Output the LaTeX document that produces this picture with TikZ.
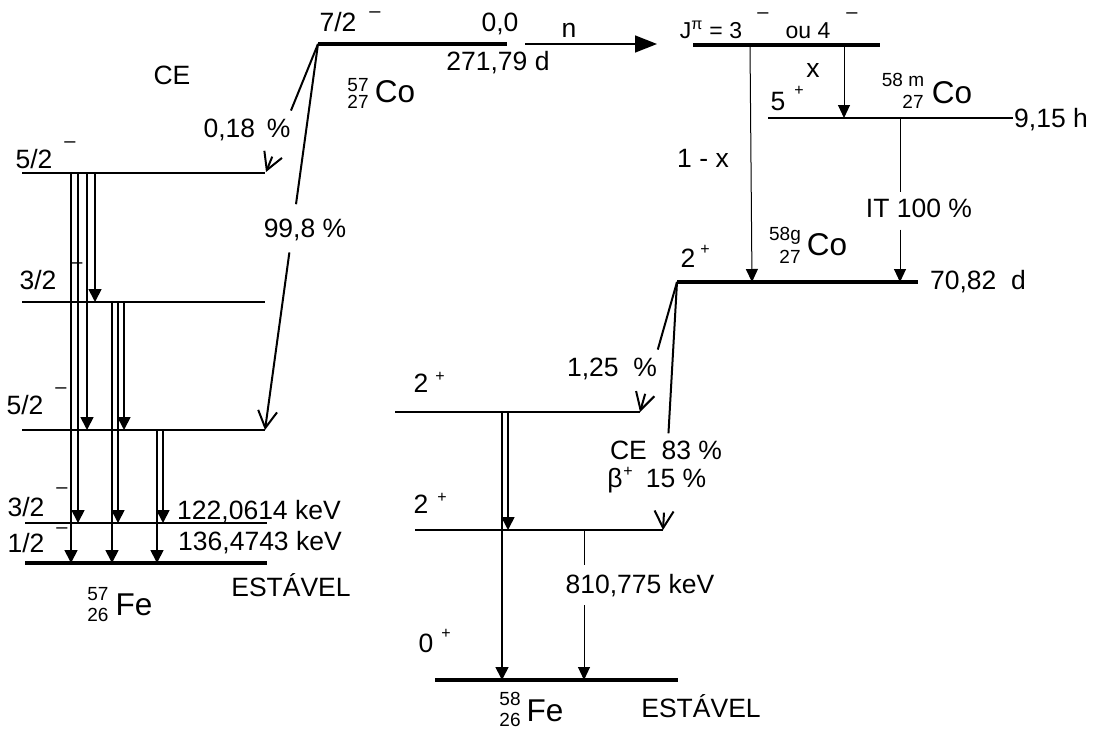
\documentclass[tikz,border=0pt]{standalone}
\usepackage{fontspec}
\setmainfont{Liberation Sans}
\usetikzlibrary{arrows.meta,calc}
\begin{document}
\begin{tikzpicture}[x=1pt,y=-1pt,
  lvl/.style={line width=2pt},
  tlvl/.style={line width=4.5pt},
  mlvl/.style={line width=3.2pt},
  gam/.style={line width=1.8pt,-{Triangle[length=13pt,width=13pt]}},
  tr/.style={line width=1pt,-{Triangle[length=13pt,width=12pt]}},
  dec/.style={line width=2pt},
  vtip/.style={line width=2pt,-{Straight Barb[length=17pt,width=19pt,line width=2pt]}},
  big/.style={line width=1.6pt,-{Triangle[length=22pt,width=17pt]}},
  lbl/.style={font=\fontsize{26.5}{30}\selectfont,inner sep=0pt,text height=19pt,text depth=0pt},
  mlbl/.style={font=\fontsize{23}{27}\selectfont,inner sep=0pt,text height=16.5pt,text depth=0pt},
  nuc/.style={font=\fontsize{31.5}{35}\selectfont,inner sep=0pt,text height=22.5pt,text depth=0pt},
  znum/.style={font=\fontsize{19}{21}\selectfont,inner sep=0pt,text height=13.6pt,text depth=0pt},
  mns/.style={font=\fontsize{20}{22}\selectfont,inner sep=0pt,anchor=base},
  pls/.style={font=\fontsize{16}{18}\selectfont,inner sep=0pt,anchor=base}
]
\useasboundingbox (0,0) rectangle (1095,731);

% ---------- 57Fe levels ----------
\coordinate (a1l) at (22,173);  \coordinate (a1r) at (265,173);
\coordinate (a2l) at (22,302);  \coordinate (a2r) at (265,302);
\coordinate (a3l) at (22,430);  \coordinate (a3r) at (265,430);
\coordinate (a4l) at (25,523);  \coordinate (a4r) at (267,523);
\coordinate (a5l) at (25,563);  \coordinate (a5r) at (267,563);
\draw[lvl] (a1l) -- (a1r);
\draw[lvl] (a2l) -- (a2r);
\draw[lvl] (a3l) -- (a3r);
\draw[lvl] (a4l) -- (a4r);
\draw[tlvl] (a5l) -- (a5r);

% gamma transitions
\foreach \n/\x/\ya/\yb in {g1/71/173/563, g2/78/173/523, g3/87/173/430, g4/95/173/302,
                          g5/112/302/563, g6/118/302/523, g7/124/302/430,
                          g8/157/430/563, g9/163/430/523}{
  \coordinate (\n s) at (\x,\ya);
  \coordinate (\n e) at (\x,\yb);
  \draw[gam] (\n s) -- (\n e);
}

% labels 57Fe
\node[lbl] (s1) at (34,159) {5/2};   \node[mns] (m1) at (70,147) {–};
\node[lbl] (s2) at (38,280) {3/2};   \node[mns] (m2) at (77,268) {–};
\node[lbl] (s3) at (25,405) {5/2};   \node[mns] (m3) at (61,393) {–};
\node[lbl] (s4) at (26,507) {3/2};   \node[mns] (m4) at (62,493) {–};
\node[lbl] (s5) at (26,543) {1/2};   \node[mns] (m5) at (62,533) {–};
\node[lbl] (e1) at (259,510) {122,0614 keV};
\node[lbl] (e2) at (260,541) {136,4743 keV};
\node[lbl] (st1) at (291,587) {ESTÁVEL};
\node[znum] (fa) at (98,594) {57};
\node[znum] (fz) at (98,615) {26};
\node[nuc]  (fe1) at (134,604) {Fe};

% ---------- 57Co ----------
\coordinate (c7l) at (318,44); \coordinate (c7r) at (507,44);
\draw[mlvl] (c7l) -- (c7r);
\node[lbl] (s7) at (338,22) {7/2};   \node[mns] (m7) at (375,17) {–};
\node[lbl] (z0) at (500,22) {0,0};
\node[lbl] (t57) at (498,61) {271,79 d};
\node[znum] (ca) at (358,85) {57};
\node[znum] (cz) at (358,102) {27};
\node[nuc]  (co1) at (395,91) {Co};
\node[lbl] (ce1) at (172,75) {CE};

\coordinate (t018) at (266,172);
\draw[dec] (c7l) -- ($(c7l)!0.52!(t018)$);
\draw[vtip] ($(c7l)!0.88!(t018)$) -- (t018);
\node[lbl] (p018) at (247,128) {0,18\,\ \%};

\coordinate (t998) at (265,430);
\draw[dec] (c7l) -- ($(c7l)!0.415!(t998)$);
\draw[vtip] ($(c7l)!0.54!(t998)$) -- (t998);
\node[lbl] (p998) at (305,228) {99,8 \%};

% neutron capture arrow
\coordinate (n0) at (525,44); \coordinate (n1) at (657,44);
\draw[big] (n0) -- (n1);
\node[lbl] (nn) at (569,28) {n};

% ---------- 58Co ----------
\coordinate (jl) at (693,45); \coordinate (jr) at (880,45);
\draw[mlvl] (jl) -- (jr);
\node[mlbl] (jp) at (711,30) {J\textsuperscript{π} = 3};
\node[mns] (mj1) at (763,18) {–};
\node[mlbl] (ou) at (808,30) {ou 4};
\node[mns] (mj2) at (852,18) {–};

\coordinate (ml) at (768,118); \coordinate (mr) at (1013,118);
\draw[lvl] (ml) -- (mr);
\coordinate (xs) at (844,45); \coordinate (xe) at (844,118);
\draw[tr] (xs) -- (xe);
\node[lbl] (xl) at (813,68) {x};
\node[lbl] (f5) at (778,101) {5};  \node[pls] (f5p) at (799,95) {+};
\node[znum] (cma) at (903,80) {58 m};
\node[znum] (cmz) at (913,102) {27};
\node[nuc]  (co2) at (952,92) {Co};
\node[lbl] (t915) at (1051,118) {9,15 h};

\coordinate (gl) at (677,282); \coordinate (gr) at (918,282);
\draw[mlvl] (gl) -- (gr);
\coordinate (ys) at (750,45); \coordinate (ye) at (752,282);
\draw[tr] (ys) -- (ye);
\node[lbl] (omx) at (703,158) {1 - x};
\coordinate (its) at (900,118); \coordinate (ite) at (900,282);
\draw[line width=1pt] (its) -- ($(its)!0.45!(ite)$);
\draw[tr] ($(its)!0.68!(ite)$) -- (ite);
\node[lbl] (it) at (919,208) {IT 100 \%};
\node[lbl] (g2a) at (688,258) {2};  \node[pls] (g2p) at (705,254) {+};
\node[znum] (cga) at (785,234) {58g};
\node[znum] (cgz) at (790,257) {27};
\node[nuc]  (co3) at (827,244) {Co};
\node[lbl] (t7082) at (978,280) {70,82\ \ d};

% ---------- 58Fe ----------
\coordinate (b1l) at (395,412); \coordinate (b1r) at (640,412);
\coordinate (b2l) at (415,530); \coordinate (b2r) at (663,530);
\coordinate (b3l) at (435,680); \coordinate (b3r) at (678,680);
\draw[lvl] (b1l) -- (b1r);
\draw[lvl] (b2l) -- (b2r);
\draw[tlvl] (b3l) -- (b3r);

\draw[dec] (gl) -- ($(gl)!0.52!(b1r)$);
\draw[vtip] ($(gl)!0.86!(b1r)$) -- (b1r);
\node[lbl] (p125) at (612,367) {1,25\ \ \%};

\draw[dec] (gl) -- ($(gl)!0.61!(b2r)$);
\draw[vtip] ($(gl)!0.93!(b2r)$) -- (b2r);
\node[lbl] (pce) at (666,450) {CE\ \ 83 \%};
\node[lbl] (pb) at (615,478) {β};  \node[pls] (pbp) at (628,476) {+};
\node[lbl] (pb15) at (676,478) {15 \%};

\coordinate (h1s) at (508,412); \coordinate (h1e) at (508,530);
\coordinate (h2s) at (502,412); \coordinate (h2e) at (502,680);
\draw[gam,line width=1.6pt] (h1s) -- (h1e);
\draw[gam,line width=1.6pt] (h2s) -- (h2e);
\coordinate (ks) at (584,530); \coordinate (ke) at (584,680);
\draw[line width=1pt] (ks) -- ($(ks)!0.23!(ke)$);
\draw[tr] ($(ks)!0.5!(ke)$) -- (ke);
\node[lbl] (e810) at (640,584) {810,775 keV};

\node[lbl] (u2) at (421,383) {2};  \node[pls] (u2p) at (440,381) {+};
\node[lbl] (l2) at (421,504) {2};  \node[pls] (l2p) at (442,502) {+};
\node[lbl] (g0) at (426,643) {0};  \node[pls] (g0p) at (446,638) {+};
\node[znum] (fb) at (510,699) {58};
\node[znum] (fbz) at (510,720) {26};
\node[nuc]  (fe2) at (545,710) {Fe};
\node[lbl] (st2) at (701,708) {ESTÁVEL};
\end{tikzpicture}
\end{document}
